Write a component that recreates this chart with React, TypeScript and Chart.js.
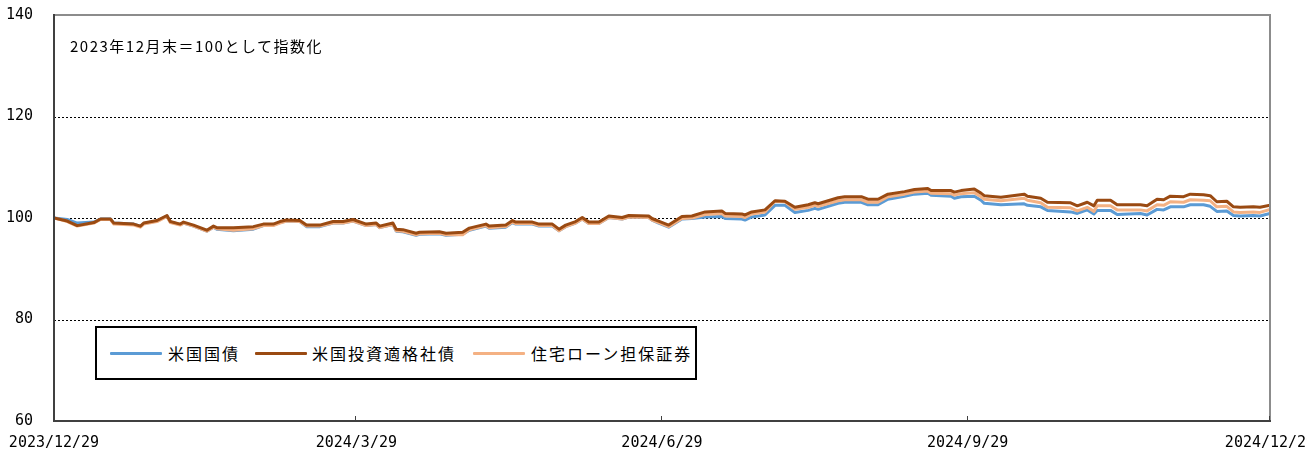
import React, { useEffect, useRef } from "react";
import { Chart, registerables } from "chart.js";

Chart.register(...registerables);

// ---- data ----
const dates = [
  "2023-12-29", "2024-01-02", "2024-01-05", "2024-01-10", "2024-01-12", "2024-01-15", "2024-01-16", "2024-01-22", "2024-01-24", "2024-01-25",
  "2024-01-29", "2024-02-01", "2024-02-02", "2024-02-05", "2024-02-06", "2024-02-09", "2024-02-13", "2024-02-15", "2024-02-16", "2024-02-21",
  "2024-02-27", "2024-03-01", "2024-03-04", "2024-03-06", "2024-03-08", "2024-03-12", "2024-03-14", "2024-03-18", "2024-03-22", "2024-03-25",
  "2024-03-28", "2024-04-01", "2024-04-04", "2024-04-05", "2024-04-09", "2024-04-10", "2024-04-12", "2024-04-16", "2024-04-17", "2024-04-23",
  "2024-04-25", "2024-04-30", "2024-05-02", "2024-05-07", "2024-05-08", "2024-05-13", "2024-05-15", "2024-05-16", "2024-05-21", "2024-05-23",
  "2024-05-27", "2024-05-29", "2024-05-31", "2024-06-03", "2024-06-05", "2024-06-07", "2024-06-10", "2024-06-13", "2024-06-17", "2024-06-19",
  "2024-06-25", "2024-06-26", "2024-06-28", "2024-07-01", "2024-07-05", "2024-07-08", "2024-07-12", "2024-07-17", "2024-07-18", "2024-07-23",
  "2024-07-24", "2024-07-26", "2024-07-30", "2024-08-02", "2024-08-05", "2024-08-08", "2024-08-12", "2024-08-14", "2024-08-15", "2024-08-21",
  "2024-08-23", "2024-08-28", "2024-08-30", "2024-09-02", "2024-09-05", "2024-09-10", "2024-09-13", "2024-09-17", "2024-09-18", "2024-09-24",
  "2024-09-25", "2024-09-27", "2024-10-01", "2024-10-03", "2024-10-04", "2024-10-09", "2024-10-16", "2024-10-17", "2024-10-21", "2024-10-23",
  "2024-10-30", "2024-11-01", "2024-11-04", "2024-11-06", "2024-11-07", "2024-11-11", "2024-11-13", "2024-11-20", "2024-11-22", "2024-11-25",
  "2024-11-27", "2024-11-29", "2024-12-03", "2024-12-05", "2024-12-09", "2024-12-11", "2024-12-13", "2024-12-16", "2024-12-18", "2024-12-20",
  "2024-12-24", "2024-12-26", "2024-12-29",
];

// 米国国債
const usTreasury = [
  100.0, 99.7, 99.0, 99.2, 99.8, 99.8, 99.0, 98.8, 98.4, 98.9,
  99.4, 100.4, 99.2, 98.7, 99.0, 98.4, 97.4, 98.2, 97.8, 97.5,
  97.8, 98.5, 98.6, 99.1, 99.4, 99.3, 98.3, 98.3, 99.0, 99.0,
  99.4, 98.5, 98.7, 98.1, 98.7, 97.4, 97.3, 96.6, 96.8, 96.9,
  96.6, 96.8, 97.6, 98.4, 98.0, 98.2, 99.1, 98.8, 98.8, 98.4,
  98.4, 97.5, 98.3, 99.0, 99.8, 98.9, 98.9, 100.1, 99.8, 100.2,
  100.1, 99.6, 99.0, 98.2, 99.8, 99.9, 100.2, 100.3, 99.9, 99.8,
  99.6, 100.2, 100.6, 102.5, 102.5, 101.1, 101.5, 101.9, 101.7, 102.9,
  103.1, 103.1, 102.6, 102.6, 103.7, 104.3, 104.7, 104.9, 104.5, 104.3,
  103.9, 104.2, 104.3, 103.5, 102.9, 102.6, 102.8, 102.5, 102.2, 101.5,
  101.2, 100.9, 101.6, 100.8, 101.5, 101.5, 100.7, 100.9, 100.6, 101.7,
  101.6, 102.2, 102.2, 102.6, 102.6, 102.3, 101.3, 101.4, 100.5, 100.4,
  100.5, 100.4, 100.9,
];

// 米国投資適格社債
const usIGCorp = [
  100.0, 99.4, 98.5, 99.1, 99.8, 99.8, 99.0, 98.8, 98.4, 99.0,
  99.5, 100.5, 99.3, 98.8, 99.2, 98.6, 97.6, 98.4, 98.1, 98.1,
  98.3, 98.8, 98.8, 99.3, 99.6, 99.5, 98.6, 98.6, 99.3, 99.3,
  99.7, 98.8, 99.0, 98.4, 99.0, 97.8, 97.7, 97.0, 97.2, 97.3,
  97.0, 97.2, 98.0, 98.8, 98.4, 98.6, 99.5, 99.2, 99.2, 98.8,
  98.8, 97.8, 98.6, 99.3, 100.1, 99.2, 99.2, 100.4, 100.1, 100.5,
  100.4, 99.9, 99.4, 98.6, 100.3, 100.4, 101.2, 101.4, 100.9, 100.8,
  100.6, 101.2, 101.6, 103.4, 103.3, 102.1, 102.6, 103.0, 102.8, 104.0,
  104.2, 104.2, 103.7, 103.7, 104.7, 105.2, 105.6, 105.8, 105.4, 105.4,
  105.1, 105.4, 105.7, 104.9, 104.4, 104.1, 104.7, 104.3, 103.9, 103.1,
  103.0, 102.4, 103.1, 102.4, 103.5, 103.5, 102.6, 102.6, 102.4, 103.7,
  103.6, 104.3, 104.2, 104.7, 104.6, 104.4, 103.2, 103.3, 102.2, 102.1,
  102.2, 102.1, 102.5,
];

// 住宅ローン担保証券
const usMBS = [
  100.0, 99.3, 98.4, 99.0, 99.7, 99.7, 98.8, 98.6, 98.2, 98.8,
  99.3, 100.3, 99.1, 98.6, 99.0, 98.4, 97.4, 98.2, 97.9, 97.6,
  97.9, 98.5, 98.5, 99.0, 99.4, 99.3, 98.4, 98.4, 99.0, 99.0,
  99.4, 98.5, 98.7, 98.1, 98.7, 97.5, 97.4, 96.7, 96.9, 97.0,
  96.7, 96.7, 97.7, 98.5, 98.1, 98.3, 99.2, 98.9, 98.9, 98.5,
  98.5, 97.5, 98.3, 99.0, 99.8, 98.9, 98.9, 100.1, 99.8, 100.2,
  100.1, 99.6, 99.1, 98.3, 99.9, 100.0, 100.7, 100.9, 100.4, 100.3,
  100.1, 100.8, 101.2, 103.3, 103.2, 101.7, 102.1, 102.5, 102.3, 103.4,
  103.6, 103.6, 103.1, 103.1, 104.2, 104.7, 105.1, 105.3, 104.9, 104.8,
  104.5, 104.8, 105.0, 104.2, 103.7, 103.4, 103.9, 103.5, 103.0, 102.1,
  102.0, 101.4, 102.1, 101.3, 102.4, 102.4, 101.6, 101.6, 101.4, 102.6,
  102.5, 103.2, 103.1, 103.6, 103.5, 103.4, 102.2, 102.3, 101.2, 101.1,
  101.2, 101.1, 101.7,
];

const seriesNames = ["米国国債", "米国投資適格社債", "住宅ローン担保証券"];
const xTickDates = ["2023-12-29", "2024-03-29", "2024-06-29", "2024-09-29", "2024-12-29"];
const xTickLabels = ["2023/12/29", "2024/3/29", "2024/6/29", "2024/9/29", "2024/12/29"];
const yMin = 60;
const yMax = 140;
const yStep = 20;
const gridValues = [80, 100, 120];
const noteText = "2023年12月末＝100として指数化";

// ---- styles ----
const COLORS = ["#5B9BD5", "#9A4A12", "#F4B183"];
const W = 1307;
const H = 450;
const CJK = '"Noto Sans CJK JP", "Noto Sans", sans-serif';
const MONO = '"DejaVu Sans Mono", monospace';

const BASE = Date.UTC(2023, 11, 29);
function dayOf(s: string): number {
  const [y, m, d] = s.split("-").map(Number);
  return Math.round((Date.UTC(y, m - 1, d) - BASE) / 86400000);
}

const framePlugin = {
  id: "frame",
  beforeDatasetsDraw(chart: any) {
    const { ctx, chartArea: a, scales } = chart;
    ctx.save();
    ctx.strokeStyle = "#000";
    ctx.lineWidth = 1;
    ctx.setLineDash([2, 2]);
    gridValues.forEach((v) => {
      const py = Math.round(scales.y.getPixelForValue(v)) + 0.5;
      ctx.beginPath();
      ctx.moveTo(a.left, py);
      ctx.lineTo(a.right, py);
      ctx.stroke();
    });
    ctx.restore();
  },
  afterDatasetsDraw(chart: any) {
    const { ctx, chartArea: a, scales } = chart;
    ctx.save();
    ctx.lineWidth = 2;
    ctx.strokeStyle = "#8c8c8c";
    ctx.beginPath();
    ctx.moveTo(a.left, a.top);
    ctx.lineTo(a.right, a.top);
    ctx.lineTo(a.right, a.bottom);
    ctx.stroke();
    ctx.strokeStyle = "#404040";
    ctx.beginPath();
    ctx.moveTo(a.left, a.top - 1);
    ctx.lineTo(a.left, a.bottom);
    ctx.lineTo(a.right + 1, a.bottom);
    ctx.stroke();
    ctx.lineWidth = 1;
    xTickDates.forEach((d) => {
      const px = Math.round(scales.x.getPixelForValue(dayOf(d))) - 0.5;
      ctx.beginPath();
      ctx.moveTo(px, a.bottom);
      ctx.lineTo(px, a.bottom - 5);
      ctx.stroke();
    });
    ctx.restore();
  },
};

export default function App() {
  const ref = useRef<HTMLCanvasElement | null>(null);

  useEffect(() => {
    if (!ref.current) return;
    const xs = dates.map(dayOf);
    const mk = (vals: number[]) => vals.map((v, i) => ({ x: xs[i], y: v }));
    const chart = new Chart(ref.current, {
      type: "line",
      data: {
        datasets: [
          { label: seriesNames[0], data: mk(usTreasury), borderColor: COLORS[0], order: 3 },
          { label: seriesNames[1], data: mk(usIGCorp), borderColor: COLORS[1], order: 1 },
          { label: seriesNames[2], data: mk(usMBS), borderColor: COLORS[2], order: 2 },
        ].map((d) => ({
          ...d,
          borderWidth: 3,
          pointRadius: 0,
          tension: 0,
          fill: false,
          borderJoinStyle: "round" as const,
        })),
      },
      options: {
        animation: false,
        responsive: false,
        layout: { padding: { top: 15, right: 37, left: 0, bottom: 0 } },
        plugins: { legend: { display: false }, tooltip: { enabled: false } },
        scales: {
          x: {
            type: "linear",
            min: dayOf(xTickDates[0]),
            max: dayOf(xTickDates[xTickDates.length - 1]),
            grid: { display: false, drawTicks: false },
            border: { display: false },
            afterBuildTicks: (s: any) => {
              s.ticks = xTickDates.map((d) => ({ value: dayOf(d) }));
            },
            afterFit: (s: any) => {
              s.height = 29;
              s.paddingLeft = 0;
              s.paddingRight = 0;
            },
            ticks: {
              autoSkip: false,
              maxRotation: 0,
              padding: 13,
              color: "#000",
              font: { family: MONO, size: 15 },
              callback: (_v: any, i: number) => xTickLabels[i],
            },
          },
          y: {
            min: yMin,
            max: yMax,
            grid: { display: false, drawTicks: false },
            border: { display: false },
            ticks: {
              stepSize: yStep,
              padding: 21,
              color: "#000",
              font: { family: MONO, size: 15 },
            },
            afterFit: (s: any) => {
              s.width = 54;
              s.paddingTop = 0;
              s.paddingBottom = 0;
            },
          },
        },
      },
      plugins: [framePlugin],
    });
    return () => chart.destroy();
  }, []);

  const legendLines = [110, 255, 473];
  const legendTexts = [168, 312, 531];

  return (
    <div style={{ position: "absolute", left: 0, top: 0, width: W, height: H, background: "#fff", overflow: "hidden" }}>
      <canvas ref={ref} width={W} height={H} style={{ position: "absolute", left: 0, top: 0 }} />
      <div
        style={{
          position: "absolute",
          left: 70,
          top: 38,
          fontFamily: CJK,
          fontSize: 15,
          lineHeight: "16px",
          letterSpacing: "1.5px",
          color: "#000",
          whiteSpace: "nowrap",
        }}
      >
        {noteText}
      </div>
      <div
        style={{
          position: "absolute",
          left: 95,
          top: 326,
          width: 602,
          height: 54,
          border: "2px solid #000",
          boxSizing: "border-box",
          background: "#fff",
        }}
      />
      {seriesNames.map((name, i) => (
        <React.Fragment key={name}>
          <div
            style={{
              position: "absolute",
              left: legendLines[i],
              top: 352,
              width: 52,
              height: 3,
              background: COLORS[i],
              borderRadius: 1,
            }}
          />
          <div
            style={{
              position: "absolute",
              left: legendTexts[i],
              top: 343,
              fontFamily: CJK,
              fontSize: 16,
              lineHeight: "20px",
              letterSpacing: "2px",
              color: "#000",
              whiteSpace: "nowrap",
            }}
          >
            {name}
          </div>
        </React.Fragment>
      ))}
    </div>
  );
}
